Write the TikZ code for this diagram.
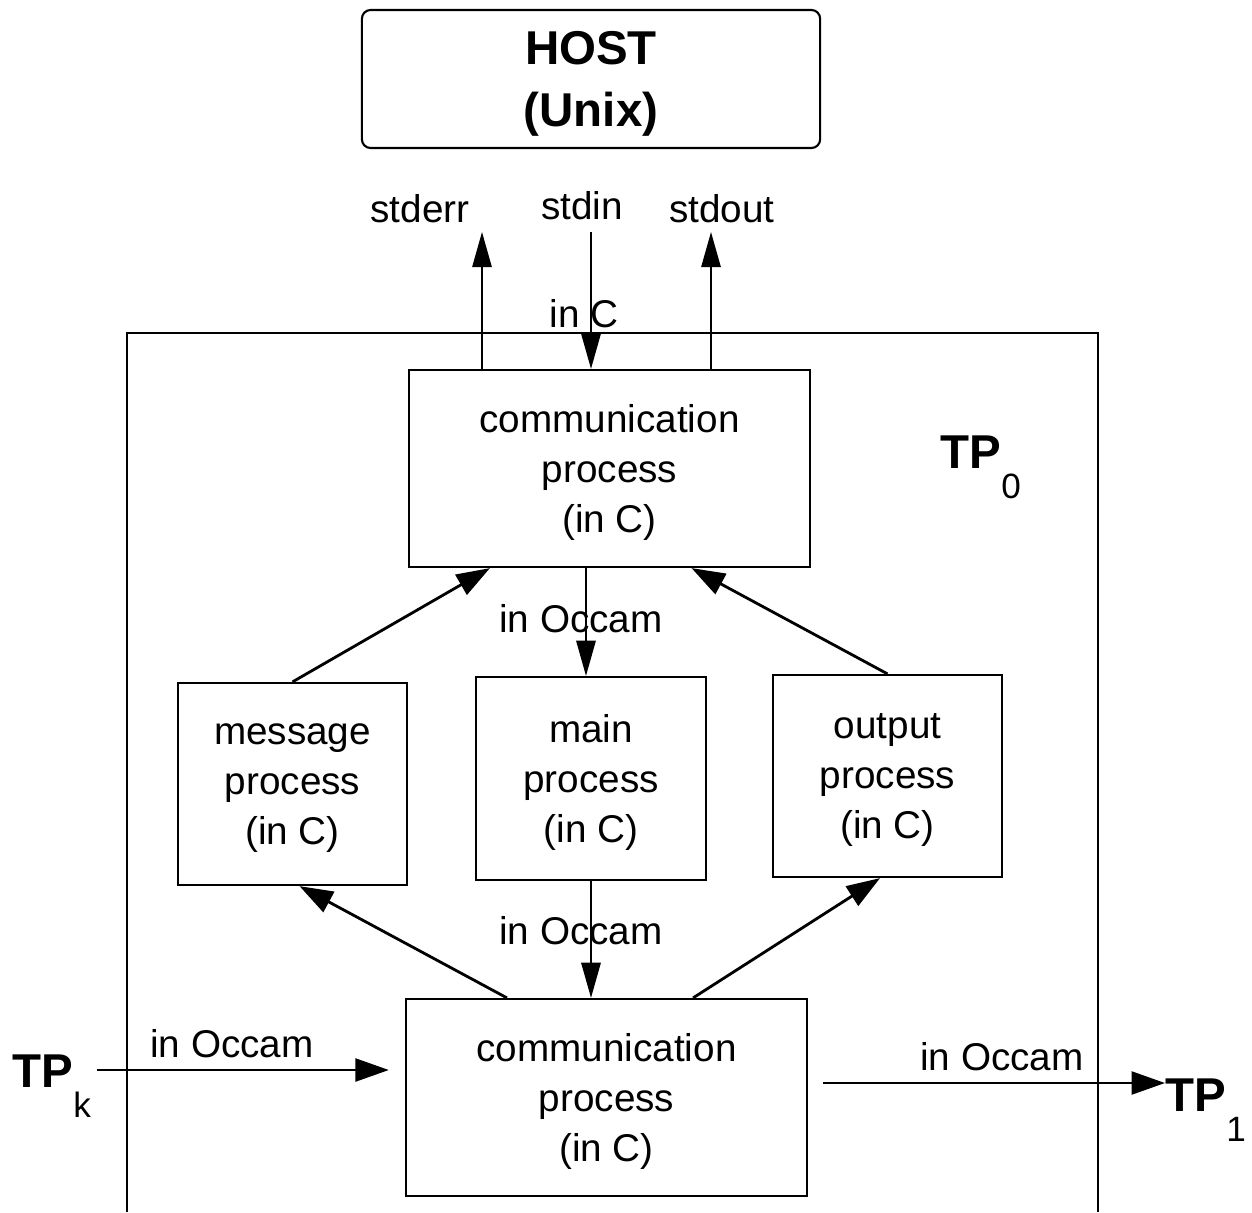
\documentclass[tikz,border=0pt]{standalone}
\usepackage{fontspec}
\setmainfont{Liberation Sans}
\usetikzlibrary{arrows.meta, positioning}

\newcommand{\tpname}[1]{{\fontsize{13.5}{16}\selectfont\bfseries TP}\raisebox{-8.8pt}{\fontsize{10}{12}\selectfont #1}}

\begin{document}
\begin{tikzpicture}[
x=0.01cm, y=-0.01cm,
every node/.style={align=center, font=\fontsize{11}{14.2}\selectfont},
procbox/.style={draw, rectangle, line width=0.6pt, inner sep=0pt, text depth=0pt},
arrow/.style={-{Triangle[length=9.5pt, width=6.5pt]}, line width=0.8pt},
thinarrow/.style={-{Triangle[length=10pt, width=5.5pt]}, line width=0.55pt}
]
\useasboundingbox (0,0) rectangle (1252,1212);

\node[procbox, rounded corners=2.5pt, minimum width=4.58cm, minimum height=1.38cm,
  font=\fontsize{13.5}{17.6}\selectfont\bfseries] (host) at (591,79) {HOST\\(Unix)};

% the transputer TP0
\draw[line width=0.6pt] (127,1212) |- (1098,333) -- (1098,1212);
\node[anchor=base west, inner sep=0pt] (tpzero) at (940,468) {\tpname{0}};

\node[procbox, minimum width=4.01cm, minimum height=1.97cm] (topcomm) at (609.5,468.5)
{communication\\process\\(in C)};

\node[procbox, minimum width=2.29cm, minimum height=2.02cm] (msgproc) at (292.5,784)
{message\\process\\(in C)};

\node[procbox, minimum width=2.30cm, minimum height=2.03cm] (mainproc) at (591,778.5)
{main\\process\\(in C)};

\node[procbox, minimum width=2.29cm, minimum height=2.02cm] (outproc) at (887.5,776)
{output\\process\\(in C)};

\node[procbox, minimum width=4.01cm, minimum height=1.97cm] (botcomm) at (606.5,1097.5)
{communication\\process\\(in C)};

\node[anchor=base west, inner sep=0pt] (tpk) at (12,1087) {\tpname{k}};
\node[anchor=base west, inner sep=0pt] (tpone) at (1165,1111) {\tpname{1}};

% channel labels
\node[anchor=base] (errlbl) at (420,222) {stderr};
\node[anchor=base] (inlbl) at (582,219) {stdin};
\node[anchor=base] (outlbl) at (722,222) {stdout};
\node[anchor=base] (inclbl) at (584,327) {in C};
\node[anchor=base] (occamup) at (581,632) {in Occam};
\node[anchor=base] (occamdown) at (581,944) {in Occam};
\node[anchor=base] (occamk) at (232,1057) {in Occam};
\node[anchor=base] (occamone) at (1002,1070) {in Occam};

\coordinate (errend) at (482,232);
\coordinate (instart) at (591,232);
\coordinate (outend) at (711,232);
\coordinate (occamtop) at ([xshift=-0.235cm]topcomm.south);
\coordinate (kstart) at (97,1070);
\coordinate (oneend) at (1165,1083);

\draw[thinarrow] (errend |- topcomm.north) -- (errend);
\draw[thinarrow] (instart) -- (instart |- topcomm.north);
\draw[thinarrow] (outend |- topcomm.north) -- (outend);

\draw[arrow] (msgproc.north) -- ([xshift=-1.195cm]topcomm.south);
\draw[arrow] (outproc.north) -- ([xshift=0.82cm]topcomm.south);
\draw[thinarrow] (occamtop) -- (occamtop |- mainproc.north);

\draw[thinarrow] (mainproc.south) -- (mainproc.south |- botcomm.north);
\draw[arrow] ([xshift=-0.995cm]botcomm.north) -- ([xshift=0.07cm]msgproc.south);
\draw[arrow] ([xshift=0.865cm]botcomm.north) -- ([xshift=-0.075cm]outproc.south);

\draw[arrow, shorten >=0.16cm] (kstart) -- (kstart -| botcomm.west);
\draw[arrow, shorten <=0.15cm] (oneend -| botcomm.east) -- (oneend);

\end{tikzpicture}
\end{document}
